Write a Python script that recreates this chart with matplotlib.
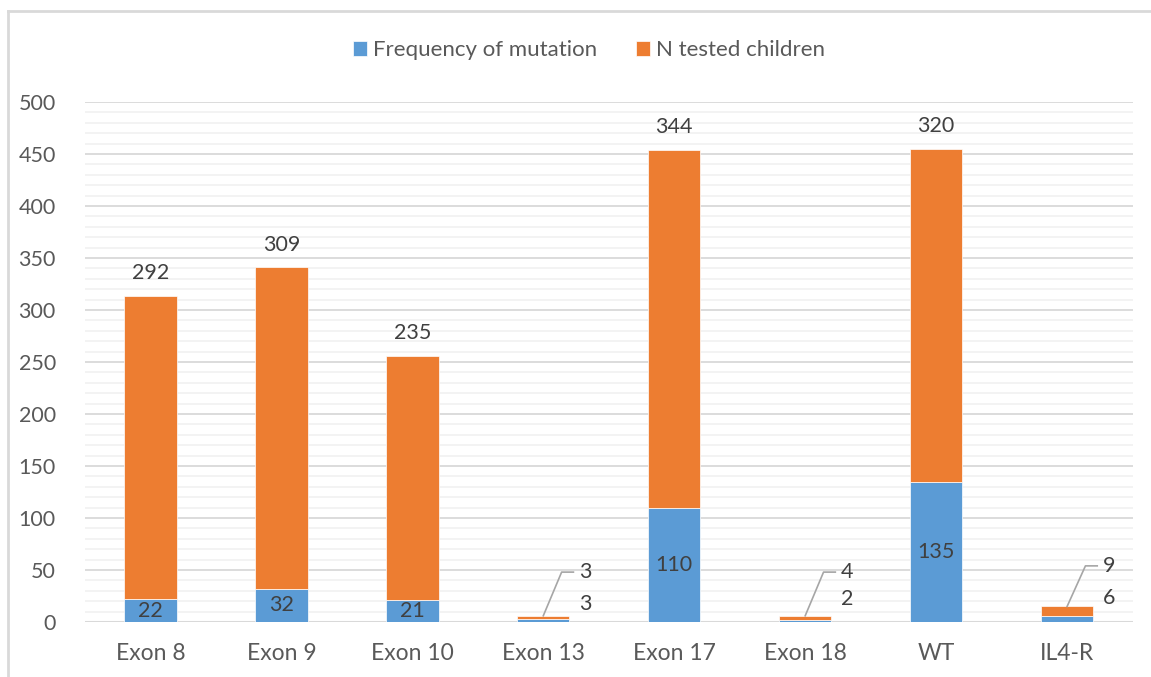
import matplotlib.pyplot as plt
import numpy as np
import matplotlib as mpl
from matplotlib.lines import Line2D

mpl.rcParams.update({'font.family': ['Lato', 'DejaVu Sans'], 'font.size': 14})

categories = ["Exon 8", "Exon 9", "Exon 10", "Exon 13", "Exon 17", "Exon 18", "WT", "IL4-R"]
freq_mutation = [22, 32, 21, 3, 110, 2, 135, 6]
n_tested = [292, 309, 235, 3, 344, 4, 320, 9]

# small bars get callout labels with leader lines (index: label heights for orange, blue)
callouts = {3: (48, 17), 5: (48, 22), 7: (54, 23)}

blue = '#5B9BD5'
orange = '#ED7D31'
txt = '#595959'
lab = '#404040'

fig = plt.figure(figsize=(11.51, 6.77), dpi=100)
ax = fig.add_axes([0.0738, 0.0812, 0.9102, 0.768])

x = np.arange(len(categories))
ax.bar(x, freq_mutation, width=0.4, color=blue, edgecolor='white', linewidth=0.5,
       label="Frequency of mutation", zorder=3)
ax.bar(x, n_tested, width=0.4, bottom=freq_mutation, color=orange, edgecolor='white',
       linewidth=0.5, label="N tested children", zorder=3)

ax.set_xlim(-0.5, len(categories) - 0.5)
ax.set_ylim(0, 500)
ax.set_yticks(np.arange(0, 501, 50))
ax.set_yticks(np.arange(0, 501, 10), minor=True)
ax.set_xticks(x)
ax.set_xticklabels(categories)
ax.tick_params(axis='both', which='both', length=0, colors=txt)
ax.tick_params(axis='x', pad=15, labelsize=16.5)
ax.tick_params(axis='y', pad=21, labelsize=15.5)
ax.grid(axis='y', which='major', color='#D9D9D9', linewidth=1.3, zorder=0)
ax.grid(axis='y', which='minor', color='#F2F2F2', linewidth=1.3, zorder=0)
for s in ax.spines.values():
    s.set_visible(False)
ax.axhline(0, color='#D9D9D9', linewidth=1.5, zorder=2)

for i in range(len(categories)):
    total = freq_mutation[i] + n_tested[i]
    if i in callouts:
        yo, yb = callouts[i]
        ax.plot([i, i + 0.14, i + 0.23], [total, yo, yo], color='#A6A6A6', lw=1.2, zorder=4)
        ax.text(i + 0.27, yo, str(n_tested[i]), ha='left', va='center', color=lab, fontsize=15.5)
        ax.text(i + 0.27, yb, str(freq_mutation[i]), ha='left', va='center', color=lab, fontsize=15.5)
    else:
        ax.text(i, total + 12, str(n_tested[i]), ha='center', va='bottom', color=lab, fontsize=15.5)
        ax.text(i, freq_mutation[i] / 2, str(freq_mutation[i]), ha='center', va='center',
                color=lab, fontsize=15.5, zorder=5)

ax.legend(loc='upper center', bbox_to_anchor=(0.481, 1.158), ncol=2, frameon=False,
          fontsize=16, labelcolor=txt, handlelength=0.65, handleheight=0.65,
          handletextpad=0.25, columnspacing=1.75)

# chart frame
fig.add_artist(Line2D([8 / 1151, 1], [1 - 11 / 677, 1 - 11 / 677], color='#D9D9D9', lw=2,
                      transform=fig.transFigure))
fig.add_artist(Line2D([8 / 1151, 8 / 1151], [0, 1 - 11 / 677], color='#D9D9D9', lw=2,
                      transform=fig.transFigure))

plt.savefig('out.png', dpi=100)
